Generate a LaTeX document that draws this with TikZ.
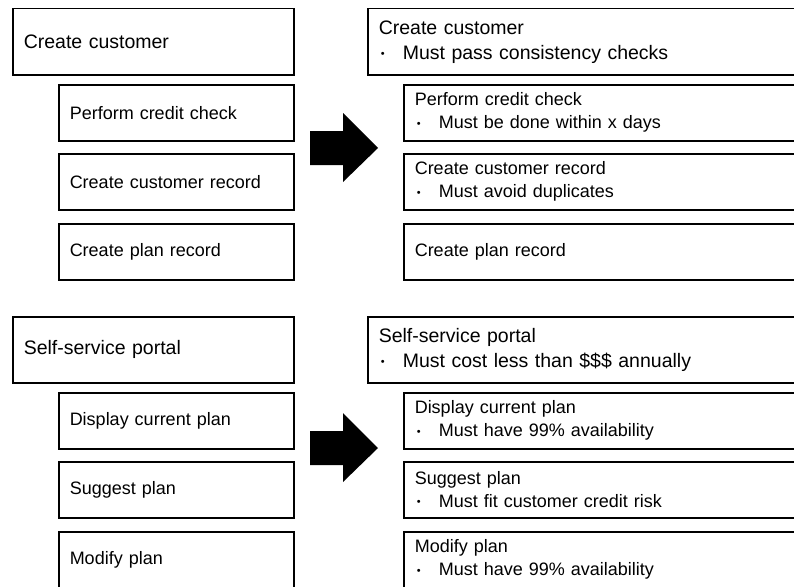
\documentclass[tikz,border=0pt]{standalone}
\usepackage{fontspec}
\setmainfont{Liberation Sans}

\tikzset{
  frame/.style={draw, line width=1.5pt, anchor=north west, inner xsep=11pt, inner ysep=0pt, align=left},
  headbox/.style={frame, minimum height=66pt, font=\fontsize{19.5}{25}\selectfont},
  taskbox/.style={frame, minimum height=56pt, font=\fontsize{18}{23}\selectfont},
}
\newcommand{\req}[1]{\makebox[24pt][l]{\hspace{2pt}\raisebox{1.8pt}{\fontsize{11}{11}\selectfont\textbullet}}#1}

\begin{document}
\begin{tikzpicture}[x=1pt,y=-1pt]
            \useasboundingbox (0,0) rectangle (794,586);
            % before
            \node[headbox, text width=259pt] (cust) at (12,8) {Create customer};
            \node[taskbox, text width=213pt] (credit) at (58,84) {Perform credit check};
            \node[taskbox, text width=213pt] (record) at (58,153) {Create customer record};
            \node[taskbox, text width=213pt] (plan) at (58,223) {Create plan record};
            \node[headbox, text width=259pt] (portal) at (12,316) {Self-service portal};
            \node[taskbox, text width=213pt] (show) at (58,392) {Display current plan};
            \node[taskbox, text width=213pt] (suggest) at (58,461) {Suggest plan};
            \node[taskbox, text width=213pt] (modify) at (58,531) {Modify plan};
            % after
            \node[headbox, text width=411pt] (custR) at (367,8) {Create customer\\\req{Must pass consistency checks}};
            \node[taskbox, text width=375pt] (creditR) at (403,84) {Perform credit check\\\req{Must be done within x days}};
            \node[taskbox, text width=375pt] (recordR) at (403,153) {Create customer record\\\req{Must avoid duplicates}};
            \node[taskbox, text width=375pt] (planR) at (403,223) {Create plan record};
            \node[headbox, text width=411pt] (portalR) at (367,316) {Self-service portal\\\req{Must cost less than \$\$\$ annually}};
            \node[taskbox, text width=375pt] (showR) at (403,392) {Display current plan\\\req{Must have 99\% availability}};
            \node[taskbox, text width=375pt] (suggestR) at (403,461) {Suggest plan\\\req{Must fit customer credit risk}};
            \node[taskbox, text width=375pt] (modifyR) at (403,531) {Modify plan\\\req{Must have 99\% availability}};
            \foreach \y in {148,448}{
                \fill (310,\y-17)--(343,\y-17)--(343,\y-35)--(378,\y)--(343,\y+34)--(343,\y+17)--(310,\y+17)--cycle;
            }
        \end{tikzpicture}
\end{document}
